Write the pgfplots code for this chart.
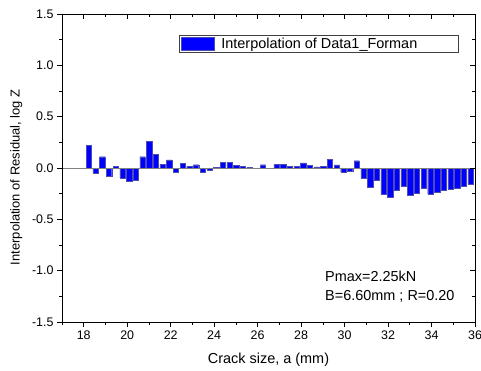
\documentclass[border=0pt]{standalone}
\usepackage{pgfplots}
\pgfplotsset{compat=1.18}
\usepackage{pgfplotstable}
\usepackage{fontspec}
\setmainfont{Liberation Sans}
\pgfplotstableread{
x y
18.240 0.221
18.548 -0.049
18.856 0.110
19.164 -0.078
19.472 0.013
19.780 -0.097
20.088 -0.127
20.396 -0.117
20.704 0.110
21.012 0.260
21.320 0.130
21.628 0.036
21.936 0.078
22.244 -0.045
22.552 0.047
22.860 0.015
23.168 0.032
23.476 -0.039
23.784 -0.023
24.092 0.003
24.400 0.052
24.708 0.052
25.016 0.029
25.324 0.018
25.632 0.006
25.940 0.000
26.248 0.032
26.556 -0.006
26.864 0.036
27.172 0.036
27.480 0.018
27.788 0.018
28.096 0.049
28.404 0.029
28.712 0.010
29.020 0.019
29.328 0.082
29.636 0.030
29.944 -0.040
30.252 -0.030
30.560 0.071
30.868 -0.104
31.176 -0.185
31.484 -0.120
31.792 -0.260
32.100 -0.282
32.408 -0.217
32.716 -0.179
33.024 -0.269
33.332 -0.247
33.640 -0.201
33.948 -0.253
34.256 -0.237
34.564 -0.221
34.872 -0.208
35.180 -0.195
35.488 -0.175
35.796 -0.156
}\resid
\begin{document}
\begin{tikzpicture}
\useasboundingbox (0,0) rectangle (481bp,371bp);
\begin{axis}[
  at={(62bp,49bp)}, anchor=south west,
  width=413bp, height=308bp, scale only axis,
  xmin=17, xmax=36, ymin=-1.5, ymax=1.5,
  xtick={18,20,...,36}, minor xtick={17,19,...,35},
  ytick={-1.5,-1,-0.5,0,0.5,1,1.5},
  minor ytick={-1.25,-0.75,-0.25,0.25,0.75,1.25},
  xtick pos=bottom, ytick pos=left, tick align=outside,
  major tick length=5bp, minor tick length=3bp,
  every tick/.style={black, line width=0.6bp},
  axis line style={line width=0.8bp},
  /pgf/number format/assume math mode=true,
  yticklabel style={/pgf/number format/.cd, fixed, fixed zerofill, precision=1},
  xticklabel style={/pgf/number format/.cd, fixed},
  tick label style={font=\fontsize{12.5}{14}\selectfont},
  xlabel={Crack size, a (mm)},
  ylabel={Interpolation of Residual, log Z},
  xlabel style={font=\fontsize{14.5}{16}\selectfont, at={(axis description cs:0.5,-0.136)}, anchor=base},
  ylabel style={font=\fontsize{13}{15}\selectfont, at={(axis description cs:-0.111,0.47)}, anchor=center},
  legend style={at={(0.2833,0.9308)}, anchor=north west,
    draw=black!75, line width=0.6bp, inner xsep=2bp, inner ysep=1.6bp,
    font=\fontsize{14.5}{16}\selectfont,
    nodes={inner ysep=0.5bp, inner xsep=2bp}},
  legend image code/.code={\draw[fill=blue, draw=gray!60!blue, line width=0.4bp] (0bp,-6.3bp) rectangle (32.7bp,6.3bp);},
  legend cell align=left,
]
\addplot[ybar, bar width=0.245, bar shift=0pt, fill=blue, draw=gray!60!blue, line width=0.4bp] table[x=x,y=y] {\resid};
\addlegendentry{\hspace*{5bp}Interpolation of Data1\_Forman\hspace*{37bp}}
\addplot[gray, line width=0.9bp, forget plot] coordinates {(17,0) (36,0)};
\node[anchor=base west, inner sep=0pt, font=\fontsize{14.5}{16}\selectfont] at (axis cs:29.10,-1.110) {Pmax=2.25kN};
\node[anchor=base west, inner sep=0pt, font=\fontsize{14.5}{16}\selectfont] at (axis cs:29.10,-1.288) {B=6.60mm ; R=0.20};
\end{axis}
\begin{axis}[
  at={(62bp,49bp)}, anchor=south west,
  width=413bp, height=308bp, scale only axis,
  xmin=17, xmax=36, ymin=-1.5, ymax=1.5,
  xtick={18,20,...,36}, minor xtick={17,19,...,35},
  ytick={-1.5,-1,-0.5,0,0.5,1,1.5},
  minor ytick={-1.25,-0.75,-0.25,0.25,0.75,1.25},
  xtick pos=top, ytick pos=right, tick align=inside,
  major tick length=5bp, minor tick length=3bp,
  every tick/.style={black, line width=0.6bp},
  axis line style={line width=0.8bp},
  xticklabels={}, yticklabels={},
]
\end{axis}
\end{tikzpicture}
\end{document}
